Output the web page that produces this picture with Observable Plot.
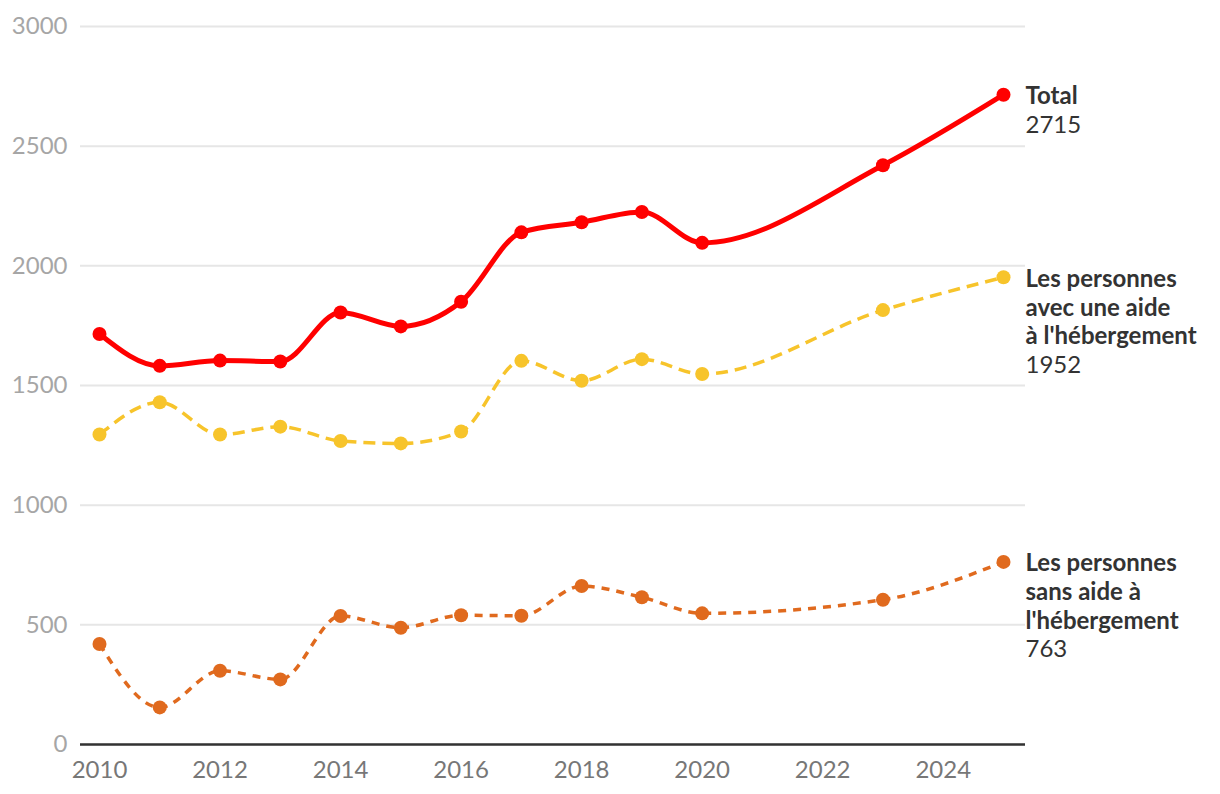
<!DOCTYPE html>
<html>
<head>
<meta charset="utf-8">
<script src="https://cdn.jsdelivr.net/npm/d3@7"></script>
<script src="https://cdn.jsdelivr.net/npm/@observablehq/plot@0.6"></script>
<style>
  html, body { margin: 0; padding: 0; background: #fff; }
  #chart svg { display: block; }
</style>
</head>
<body>
<div id="chart"></div>
<script>
const years = [2010, 2011, 2012, 2013, 2014, 2015, 2016, 2017, 2018, 2019, 2020, 2023, 2025];
const total = [1715, 1582, 1604, 1600, 1805, 1747, 1850, 2140, 2182, 2225, 2096, 2420, 2715];
const avecAide = [1295, 1430, 1295, 1328, 1268, 1258, 1308, 1603, 1520, 1610, 1548, 1815, 1952];
const sansAide = [420, 155, 308, 272, 537, 488, 540, 538, 662, 615, 548, 605, 763];
const yTicks = [0, 500, 1000, 1500, 2000, 2500, 3000];
const xTicks = [2010, 2012, 2014, 2016, 2018, 2020, 2022, 2024];

const series = [
  {key: "sans", name: "Les personnes\nsans aide à\nl'hébergement", lines: 3, values: sansAide, color: "#e06a1e", width: 3.5, dash: "8,7"},
  {key: "avec", name: "Les personnes\navec une aide\nà l'hébergement", lines: 3, values: avecAide, color: "#f7c42b", width: 3.5, dash: "12,7"},
  {key: "total", name: "Total", lines: 1, values: total, color: "#ff0000", width: 5, dash: null}
];

const fontFamily = "Lato, 'Noto Sans', sans-serif";
const fs = 24;
const lh = 1.2;

const marks = [
  Plot.gridY(yTicks, {stroke: "#e6e6e6", strokeOpacity: 1, strokeWidth: 2}),
  Plot.ruleY([0], {stroke: "#333", strokeWidth: 2.5})
];

for (const s of series) {
  const data = years.map((y, i) => ({year: y, value: s.values[i]}));
  marks.push(Plot.line(data, {
    x: "year", y: "value", stroke: s.color, strokeWidth: s.width,
    strokeDasharray: s.dash, curve: "monotone-x", strokeLinecap: "butt"
  }));
}
for (const s of series) {
  const data = years.map((y, i) => ({year: y, value: s.values[i]}));
  marks.push(Plot.dot(data, {x: "year", y: "value", fill: s.color, r: 7}));
  const last = data[data.length - 1];
  marks.push(Plot.text([last], {
    x: "year", y: "value", text: () => s.name, textAnchor: "start", lineAnchor: "top",
    dx: 22, dy: -11, fontWeight: "bold", fill: "#333", fontSize: fs, lineHeight: lh, fontFamily
  }));
  marks.push(Plot.text([last], {
    x: "year", y: "value", text: d => String(d.value), textAnchor: "start", lineAnchor: "top",
    dx: 22, dy: -11 + s.lines * fs * lh + 3, fill: "#333", fontSize: fs, fontFamily
  }));
}

marks.push(Plot.axisY(yTicks, {tickSize: 0, tickPadding: 13, fontSize: fs, fill: "#a6a6a6", fontFamily, label: null, tickFormat: d => String(d)}));
marks.push(Plot.axisX(xTicks, {tickSize: 0, tickPadding: 16, fontSize: fs, fill: "#777", fontFamily, label: null, tickFormat: d => String(d)}));

const chart = Plot.plot({
  width: 1220,
  height: 794,
  marginLeft: 80,
  marginRight: 195,
  marginTop: 26,
  marginBottom: 50,
  insetLeft: 19,
  insetRight: 22,
  style: {fontFamily, overflow: "visible"},
  x: {domain: [2010, 2025], label: null},
  y: {domain: [0, 3000], label: null},
  marks
});
document.getElementById("chart").appendChild(chart);
</script>
</body>
</html>
